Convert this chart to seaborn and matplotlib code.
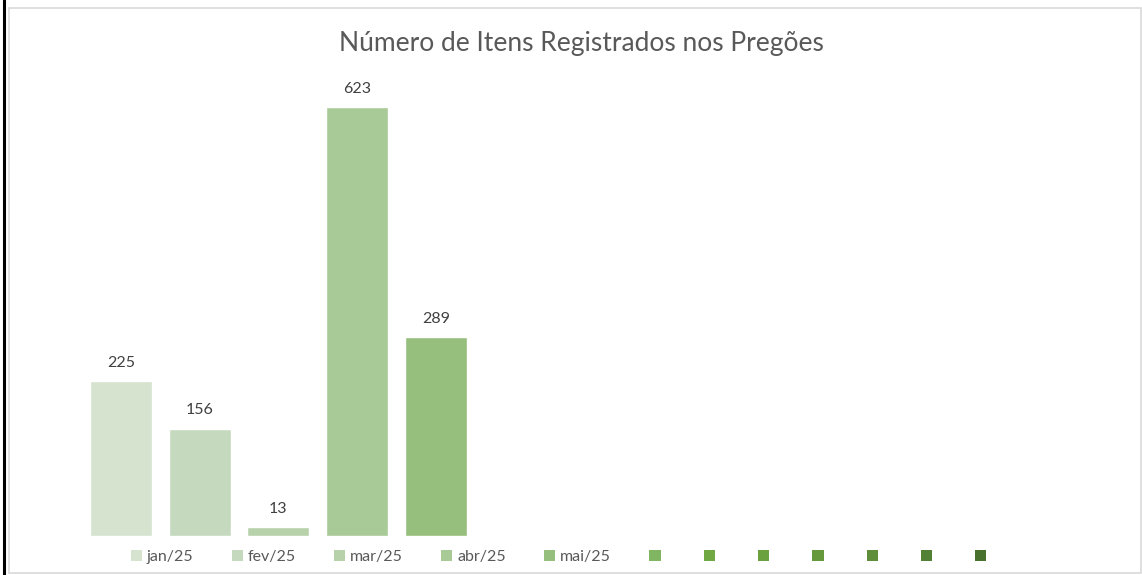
import pandas as pd
import matplotlib
matplotlib.use('Agg')
import matplotlib.pyplot as plt
from matplotlib.patches import Patch, Rectangle
from matplotlib.lines import Line2D
import seaborn as sns

# dados
meses = ['jan/25', 'fev/25', 'mar/25', 'abr/25', 'mai/25', 'jun/25',
         'jul/25', 'ago/25', 'set/25', 'out/25', 'nov/25', 'dez/25']
itens = [225, 156, 13, 623, 289, None, None, None, None, None, None, None]
rotulos_legenda = ['jan/25', 'fev/25', 'mar/25', 'abr/25', 'mai/25',
                   '', '', '', '', '', '', '']
cores = ['#D6E3CF', '#C5D9BE', '#B7D1AA', '#A8CA97', '#96BF7D', '#80B562',
         '#70A844', '#6BA23F', '#66993C', '#5E8E39', '#528135', '#47712D']

df = pd.DataFrame({'mes': meses, 'itens': itens})
df_barras = df.dropna()

sns.set_style('white')
plt.rcParams['font.family'] = ['Lato', 'DejaVu Sans']

W, H = 1142, 575
fig = plt.figure(figsize=(W / 100, H / 100), dpi=100)
ax = fig.add_axes([81.6 / W, (H - 536) / H, (1026 - 81.6) / W, 482 / H])

sns.barplot(data=df_barras, x='mes', y='itens', hue='mes', order=meses,
            palette=dict(zip(meses, cores)), width=0.79, legend=False,
            saturation=1, ax=ax)
ax.set_xlim(-0.5, 11.5)
ax.set_ylim(0, 700)

for c in ax.containers:
    ax.bar_label(c, fmt='%.0f', padding=8, fontsize=11.5, color='#404040')

ax.set_xlabel('')
ax.set_ylabel('')
ax.set_xticks([])
ax.set_yticks([])
sns.despine(ax=ax, left=True, bottom=True)

fig.text(581 / W, 1 - 44 / H, 'Número de Itens Registrados nos Pregões',
         ha='center', va='center', fontsize=19, color='#595959')

handles = [Patch(facecolor=c, edgecolor='none') for c in cores]
fig.legend(handles, rotulos_legenda, loc='center', ncol=12,
           bbox_to_anchor=(561 / W, 1 - 557 / H), frameon=False, fontsize=11.5,
           labelcolor='#595959', handlelength=0.7, handleheight=0.7,
           handletextpad=0.3, columnspacing=2.4)

# moldura
fig.patches.append(Rectangle((9 / W, 2 / H), 1132 / W, 565 / H,
                             transform=fig.transFigure, fill=False,
                             edgecolor='#D9D9D9', linewidth=1.2))
fig.lines.append(Line2D([4 / W, 4 / W], [0, 1], transform=fig.transFigure,
                        color='black', linewidth=2.2))

fig.savefig('out.png', dpi=100)
